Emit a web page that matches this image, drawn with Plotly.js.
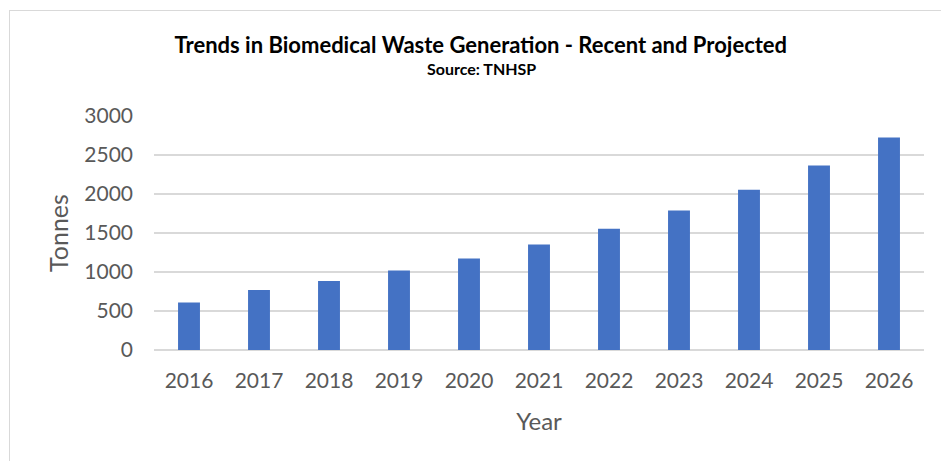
<!DOCTYPE html>
<html>
<head>
<meta charset="utf-8">
<script src="https://cdn.plot.ly/plotly-3.0.1.min.js"></script>
<style>
  body { margin: 0; background: #fff; }
  #chart { position: absolute; left: 0; top: 0; width: 941px; height: 461px; }
  #frame {
    position: absolute; left: 9px; top: 10px; width: 960px; height: 480px;
    border-left: 1px solid #d9d9d9; border-top: 1px solid #d9d9d9;
    pointer-events: none;
  }
</style>
</head>
<body>
<div id="chart"></div>
<div id="frame"></div>
<script>
const years = ["2016", "2017", "2018", "2019", "2020", "2021", "2022", "2023", "2024", "2025", "2026"];
const tonnes = [608, 769, 885, 1018, 1172, 1351, 1556, 1787, 2056, 2364, 2723];
const yTicks = [0, 500, 1000, 1500, 2000, 2500, 3000];

const font = "Lato, 'Open Sans', sans-serif";

const trace = {
  x: years,
  y: tonnes,
  type: "bar",
  marker: { color: "#4472c4" },
  hoverinfo: "skip",
};

const layout = {
  width: 941,
  height: 461,
  margin: { l: 154, r: 17, t: 116, b: 111 },
  paper_bgcolor: "#fff",
  plot_bgcolor: "#fff",
  bargap: 0.687,
  showlegend: false,
  font: { family: font, color: "#595959" },
  title: {
    text: "<b>Trends in Biomedical Waste Generation - Recent and Projected</b>",
    font: { family: font, size: 22, color: "#000" },
    x: 0.511,
    xref: "container",
    xanchor: "center",
    y: 1 - 45 / 461,
    yref: "container",
    yanchor: "middle",
  },
  annotations: [
    {
      text: "<b>Source: TNHSP</b>",
      xref: "paper",
      yref: "paper",
      x: (481 - 154) / 770,
      y: 1 + (116 - 68) / 234,
      xanchor: "center",
      yanchor: "middle",
      showarrow: false,
      font: { family: font, size: 16, color: "#000" },
    },
  ],
  xaxis: {
    type: "category",
    tickfont: { size: 21, color: "#595959" },
    ticks: "",
    ticklabelstandoff: 16,
    showline: false,
    showgrid: false,
    title: { text: "Year", font: { size: 24, color: "#595959" }, standoff: 22 },
  },
  yaxis: {
    range: [0, 3000],
    tickvals: yTicks,
    tickfont: { size: 21, color: "#595959" },
    ticks: "",
    ticklabelstandoff: 20,
    gridcolor: "#d9d9d9",
    gridwidth: 1.5,
    zeroline: true,
    zerolinecolor: "#d9d9d9",
    zerolinewidth: 1.5,
    showline: false,
    title: { text: "Tonnes", font: { size: 25, color: "#595959" }, standoff: 8 },
  },
};

Plotly.newPlot("chart", [trace], layout, { displayModeBar: false, staticPlot: true });
</script>
</body>
</html>
